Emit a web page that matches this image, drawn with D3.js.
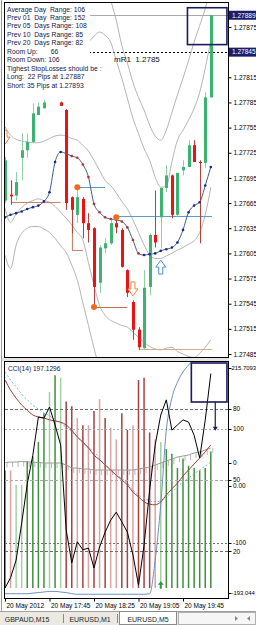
<!DOCTYPE html>
<html>
<head>
<meta charset="utf-8">
<script src="https://cdn.jsdelivr.net/npm/d3@7"></script>
<style>
  body { margin: 0; background: #fff; }
  svg { display: block; font-family: "Liberation Sans", Arial, sans-serif; }
  text { white-space: pre; }
</style>
</head>
<body>
<svg id="chart" width="256" height="625"></svg>
<script>
// EURUSD M5, values (bar 0 = 17:05)
const tickBars = [0, 8, 16, 24, 32];
const tickLabels = ['20 May 2012', '20 May 17:45', '20 May 18:25', '20 May 19:05', '20 May 19:45'];

const open  = [1.27668, 1.27675, 1.27674, 1.27719, 1.27728, 1.27738, 1.27770, 1.27778, null, null,
               1.27785, 1.27776, 1.27672, 1.27651, 1.27670, 1.27641, 1.27635, 1.27570, 1.27611, 1.27617,
               1.27641, 1.27633, 1.27585, 1.27547, 1.27514, 1.27492, 1.27565, 1.27627, 1.27648, 1.27683,
               1.27698, 1.27651, 1.27704, 1.27708, 1.27734, 1.27714, 1.27713, 1.27791];
const high  = [1.27720, 1.27692, 1.27702, 1.27748, 1.27748, 1.27784, 1.27785, 1.27788, null, null,
               1.27786, 1.27777, 1.27673, 1.27684, 1.27672, 1.27653, 1.27636, 1.27615, 1.27623, 1.27645,
               1.27648, 1.27635, 1.27586, 1.27549, 1.27517, 1.27585, 1.27629, 1.27680, 1.27684, 1.27710,
               1.27699, 1.27701, 1.27716, 1.27740, 1.27740, 1.27716, 1.27797, 1.27889];
const low   = [1.27665, 1.27663, 1.27668, 1.27692, 1.27719, 1.27737, 1.27770, 1.27778, null, null,
               1.27781, 1.27657, 1.27629, 1.27641, 1.27623, 1.27618, 1.27541, 1.27558, 1.27605, 1.27615,
               1.27629, 1.27588, 1.27553, 1.27502, 1.27490, 1.27490, 1.27555, 1.27612, 1.27611, 1.27678,
               1.27647, 1.27648, 1.27698, 1.27708, 1.27714, 1.27617, 1.27707, 1.27791];
const close = [1.27716, 1.27673, 1.27690, 1.27728, 1.27738, 1.27772, 1.27780, 1.27785, null, null,
               1.27781, 1.27665, 1.27657, 1.27672, 1.27641, 1.27633, 1.27565, 1.27612, 1.27617, 1.27641,
               1.27636, 1.27589, 1.27558, 1.27514, 1.27493, 1.27564, 1.27627, 1.27618, 1.27683, 1.27698,
               1.27651, 1.27701, 1.27708, 1.27734, 1.27714, 1.27713, 1.27791, 1.27889];

// bollinger style envelopes
const bandOuterUp = [1.27890, 1.27883, 1.27871, 1.27859, 1.27847, 1.27838, 1.27835, 1.27841, 1.27853, 1.27865,
                     1.27877, 1.27883, 1.27893, 1.27901, 1.27913, 1.27925, 1.27937, 1.27943, 1.27931, 1.27907,
                     1.27883, 1.27853, 1.27832, 1.27809, 1.27791, 1.27776, 1.27758, 1.27745, 1.27740, 1.27752,
                     1.27773, 1.27794, 1.27814, 1.27835, 1.27857, 1.27877, 1.27897, 1.27925];
const bandInnerUp = [1.27835, 1.27833, 1.27826, 1.27821, 1.27819, 1.27814, 1.27812, 1.27814, 1.27818, 1.27824,
                     1.27830, 1.27835, 1.27841, 1.27847, 1.27853, 1.27857, 1.27864, 1.27869, 1.27865, 1.27857,
                     1.27835, 1.27814, 1.27790, 1.27766, 1.27748, 1.27730, 1.27716, 1.27696, 1.27684, 1.27685,
                     1.27714, 1.27740, 1.27752, 1.27764, 1.27778, 1.27797, 1.27826, 1.27859];
const bandMid     = [1.27756, 1.27746, 1.27741, 1.27739, 1.27738, 1.27737, 1.27737, 1.27739, 1.27742, 1.27745,
                     1.27746, 1.27745, 1.27742, 1.27740, 1.27734, 1.27727, 1.27716, 1.27704, 1.27692, 1.27686,
                     1.27677, 1.27667, 1.27658, 1.27645, 1.27630, 1.27615, 1.27603, 1.27599, 1.27599, 1.27602,
                     1.27605, 1.27609, 1.27612, 1.27616, 1.27620, 1.27630, 1.27651, 1.27684];
const bandInnerLow = [1.27659, 1.27642, 1.27652, 1.27660, 1.27665, 1.27668, 1.27670, 1.27668, 1.27666, 1.27661,
                      1.27654, 1.27647, 1.27639, 1.27630, 1.27621, 1.27594, 1.27567, 1.27543, 1.27531, 1.27525,
                      1.27522, 1.27519, 1.27517, 1.27511, 1.27505, 1.27499, 1.27494, 1.27491, 1.27490, 1.27492,
                      1.27493, 1.27488, 1.27485, 1.27482, 1.27481, 1.27486, 1.27493, 1.27502];
const bandOuterLow = [1.27603, 1.27587, 1.27615, 1.27629, 1.27635, 1.27637, 1.27637, 1.27634, 1.27630, 1.27623,
                      1.27614, 1.27606, 1.27591, 1.27573, 1.27546, 1.27519, 1.27492, 1.27468, 1.27448, 1.27436,
                      1.27430, 1.27424, 1.27418, 1.27412, 1.27406, 1.27400, 1.27394, 1.27392, 1.27392, 1.27394,
                      1.27394, 1.27388, 1.27382, 1.27376, 1.27373, 1.27373, 1.27376, 1.27382];

// dotted trend MA, b = below price (navy dot), r = above price (red dot)
const maLine = [1.27648, 1.27651, 1.27653, 1.27655, 1.27658, 1.27660, 1.27662, 1.27667, 1.27678, 1.27714,
                1.27726, 1.27724, 1.27721, 1.27719, 1.27711, 1.27696, 1.27664, 1.27654, 1.27648, 1.27646,
                1.27645, 1.27643, 1.27636, 1.27621, 1.27605, 1.27603, 1.27604, 1.27605, 1.27608, 1.27610,
                1.27612, 1.27618, 1.27633, 1.27654, 1.27662, 1.27666, 1.27686, 1.27708];
const maSide = 'bbbbbbbbbbbrrrrrrrrrrrrrrbbbbbbbbbbbbb'.split('');

// fractal points, s/r segments, arrows
const fractalBars   = [13, 20, 16];
const fractalPrices = [1.27684, 1.27648, 1.27541];
const resistSegs = [{ from: 13, to: 18, price: 1.27684 }, { from: 20, to: 37.2, price: 1.27649 }];
const supportSegs = [
  { from: 1, to: 10, top: 1.27692, price: 1.27666, color: '#c9866c' },
  { from: 12, to: 14, top: 1.27641, price: 1.27609, color: '#c9866c' },
  { from: 16, to: 22, top: 1.27541, price: 1.27541, color: '#b8704e' },
  { from: 24, to: 37.2, top: 1.27502, price: 1.27491, color: '#d7aa80' }
];
const downArrows = [{ bar: 0, price: 1.27752 }, { bar: 23, price: 1.27571 }];
const upArrows = [{ bar: 28, price: 1.27597 }];

const bidPrice = 1.27889;
const mR1Price = 1.27845;
const priceTicks = [1.27875, 1.27815, 1.27785, 1.27755, 1.27725, 1.27695, 1.27665,
                    1.27635, 1.27605, 1.27575, 1.27545, 1.27515, 1.27485];

const infoLines = ['Average Day  Range: 106', 'Prev 01  Day  Range: 152', 'Prev 05  Days Range: 108',
                   'Prev 10  Days Range: 85', 'Prev 20  Days Range: 82', 'Room Up:       66',
                   'Room Down: 106', 'Tighest StopLosses should be :', 'Long:  22 Pips at 1.27887',
                   'Short: 35 Pips at 1.27893'];

// sub window
const cciValues = [-179, -161, -130, -65, 3.5, 54, 121, 119, 138.5, 107,
                   72, -77, -135, -98, -112, -109, -144, -107, -81, -60,
                   -46, -63, -81, -121, -174, -104, -7, 72, 124.5, 151,
                   98, 107, 116, 112, 89, 49, 116, 197.1296];
const cciSlow = [186, 168, 154, 142, 133, 124.5, 121, 119, 116, 114,
                 112, 107, 98, 86, 77, 67, 54, 46, 37, 28,
                 19, 10.5, 2, -11, -19, -28, -32, -33, -28, -16,
                 -5, 5, 17.5, 28, 38.5, 49, 60, 72];
const cciFast = [200, 186, 174, 161, 151, 142, 135, 128, 123, 116,
                 110.5, 103, 95, 86, 75, 67, 60, 49, 38.5, 28,
                 19, 14, 5, -7, -16, -21, -26, -28, -26, -19,
                 -11, -2, 7, 14, 21, 28, 35, 42];
const cciTrend = [-189, -189, -189, -189, -189, -188, -187, -186, -185, -185,
                  -186, -187, -189, -190, -190, -190, -190, -190, -190, -190,
                  -190, -190, -190, -190, -190, -190, -189, -130, -33, 98,
                  154, 182, 200, 212, 223, 231, 238, 244];
const histValues = [54, 54, 48, 48, 58, 60, 66, 78, 87, 94,
                    93, 83, 81, 76, 73, 73, 79, 84, 76, 72,
                    67, 78, 71, 73, 92, 93, 70, 67, 66, 63,
                    61, 55, 59, 56, 55, 54, 55, 62];
const histColors = ['r', 'lr', 'lg', 'lg', 'g', 'g', 'g', 'g', 'lg', 'g',
                    'lg', 'r', 'r', 'lr', 'r', 'lr', 'r', 'lr', 'r', 'lr',
                    'lr', 'r', 'r', 'lr', 'r', 'r', 'r', 'lr', 'lg', 'g',
                    'g', 'g', 'g', 'g', 'g', 'g', 'g', 'g'];
const oscValues = [0.05, 0.1, 0.1, 0.15, 0.1, 0.1, 0.05, 0, 0, 0,
                   0, -0.2, -0.5, -0.5, -0.6, -0.6, -0.7, -0.7, -0.7, -0.7,
                   -0.7, -0.7, -0.7, -0.7, -0.6, -0.5, -0.4, -0.2, 0, 0.2,
                   0.4, 0.6, 0.7, 0.8, 1.0, 1.1, 1.3, 1.5];
const cciLevels = [100, -100];
const pctLevels = [80, 50, 20];
const cciMax = 215.7093, cciMin = -193.044;

const tabs = ['GBPAUD,M15', 'EURUSD,M1', 'EURUSD,M5'];

// ---- scales ----
const svg = d3.select('#chart');
const x = d3.scaleLinear().domain([0, 40]).range([5, 227.5]);
const y = d3.scaleLinear().domain([1.27485, 1.27875]).range([354, 27]);
const yCci = d3.scaleLinear().domain([cciMin, cciMax]).range([596, 363]);
const yPct = d3.scaleLinear().domain([0, 100]).range([599, 361]);
const yOsc = d3.scaleLinear().domain([-1, 1]).range([473, 453]);
const px = v => Math.round(v) + 0.5;

const defs = svg.append('defs');
defs.append('clipPath').attr('id', 'clipMain').append('rect')
  .attr('x', 5).attr('y', 3).attr('width', 223).attr('height', 354);
defs.append('clipPath').attr('id', 'clipSub').append('rect')
  .attr('x', 5).attr('y', 362).attr('width', 223).attr('height', 236);

// window chrome
svg.append('rect').attr('x', 0).attr('y', 0).attr('width', 256).attr('height', 625).attr('fill', '#fff');
svg.append('line').attr('x1', 1.5).attr('x2', 1.5).attr('y1', 0).attr('y2', 611).attr('stroke', '#9a9a9a');
svg.append('rect').attr('x', 2).attr('y', 357.5).attr('width', 227).attr('height', 4).attr('fill', '#e4e4e4');

const main = svg.append('g').attr('clip-path', 'url(#clipMain)');

// bid line and mR1 pivot
main.append('line').attr('x1', 5).attr('x2', 228).attr('y1', px(y(bidPrice))).attr('y2', px(y(bidPrice)))
  .attr('stroke', '#a8a8a8');
main.append('line').attr('x1', 5).attr('x2', 228).attr('y1', px(y(mR1Price))).attr('y2', px(y(mR1Price)))
  .attr('stroke', '#000').attr('stroke-dasharray', '2,2');

// bands
const bandLine = d3.line()
  .defined(d => d != null)
  .x((d, i) => x(i))
  .y(d => y(d))
  .curve(d3.curveMonotoneX);
[bandOuterUp, bandInnerUp, bandMid, bandInnerLow, bandOuterLow].forEach(s => {
  main.append('path').datum(s).attr('d', bandLine)
    .attr('fill', 'none').attr('stroke', '#ababab').attr('stroke-width', 0.9);
});

// s/r segments
resistSegs.forEach(s => {
  main.append('line').attr('x1', x(s.from)).attr('x2', x(s.to))
    .attr('y1', px(y(s.price))).attr('y2', px(y(s.price)))
    .attr('stroke', '#5b9bd0').attr('stroke-width', 1);
});
supportSegs.forEach(s => {
  main.append('path')
    .attr('d', `M${px(x(s.from))},${y(s.top)}V${px(y(s.price))}H${x(s.to)}`)
    .attr('fill', 'none').attr('stroke', s.color).attr('stroke-width', 1.2);
});

// MA with dots
main.append('path').datum(maLine).attr('d', bandLine)
  .attr('fill', 'none').attr('stroke', '#3d5d8f').attr('stroke-width', 1);

// candles
const bars = open.map((o, i) => ({ i, o, h: high[i], l: low[i], c: close[i] })).filter(d => d.o != null);
main.selectAll('.wick').data(bars).join('line')
  .attr('x1', d => px(x(d.i))).attr('x2', d => px(x(d.i)))
  .attr('y1', d => y(d.h)).attr('y2', d => y(d.l))
  .attr('stroke', d => d.c >= d.o ? '#8fcfa6' : '#b8403c').attr('stroke-width', 1);
main.selectAll('.body').data(bars).join('rect')
  .attr('x', d => Math.round(x(d.i)) - 1)
  .attr('width', 3)
  .attr('y', d => y(Math.max(d.o, d.c)))
  .attr('height', d => Math.max(1, Math.abs(y(d.o) - y(d.c))))
  .attr('fill', d => d.c >= d.o ? '#3cb371' : '#ee1111');

main.selectAll('.madot').data(maLine).join('circle')
  .attr('cx', (d, i) => x(i)).attr('cy', d => y(d)).attr('r', 1.3)
  .attr('fill', (d, i) => maSide[i] === 'r' ? '#c0302a' : '#1c2a80');

// fractals
fractalBars.forEach((b, k) => {
  main.append('circle').attr('cx', x(b)).attr('cy', y(fractalPrices[k])).attr('r', 3)
    .attr('fill', '#f26b1d');
});

// hollow arrows
downArrows.forEach(a => {
  const cx = x(a.bar), t = y(a.price);
  main.append('path')
    .attr('d', `M${cx - 2},${t}H${cx + 2}V${t + 7}H${cx + 5}L${cx},${t + 14}L${cx - 5},${t + 7}H${cx - 2}Z`)
    .attr('fill', '#fff').attr('stroke', '#f0843c').attr('stroke-width', 1);
});
upArrows.forEach(a => {
  const cx = x(a.bar), t = y(a.price);
  main.append('path')
    .attr('d', `M${cx},${t}L${cx + 5},${t + 7}H${cx + 2}V${t + 14}H${cx - 2}V${t + 7}H${cx - 5}Z`)
    .attr('fill', '#fff').attr('stroke', '#4a90d9').attr('stroke-width', 1);
});

// info panel
main.append('rect').attr('x', 5).attr('y', 3).attr('width', 85).attr('height', 89).attr('fill', '#fff');
main.selectAll('.info').data(infoLines).join('text')
  .attr('x', 7).attr('y', (d, i) => 11.5 + i * 8.47)
  .attr('font-size', 6.8).attr('fill', '#16164a')
  .text(d => d);

main.append('text').attr('x', 114).attr('y', 62).attr('font-size', 8).attr('fill', '#111')
  .text('mR1  1.2785');

// drawn rectangle
main.append('rect').attr('x', x(32.8)).attr('y', y(1.27898))
  .attr('width', x(39.9) - x(32.8)).attr('height', y(1.27854) - y(1.27898))
  .attr('fill', 'none').attr('stroke', '#1a1a5c').attr('stroke-width', 1.6);

// main frame
svg.append('rect').attr('x', 4.5).attr('y', 2.5).attr('width', 224).attr('height', 355)
  .attr('fill', 'none').attr('stroke', '#000');

// price axis
const pAxis = svg.append('g').attr('transform', 'translate(228.5,0)')
  .call(d3.axisRight(y).tickValues(priceTicks).tickSize(3).tickPadding(2).tickFormat(d3.format('.5f')));
pAxis.select('.domain').remove();
pAxis.selectAll('text').attr('font-size', 6.5).attr('font-family', '"Liberation Sans", Arial, sans-serif').attr('fill', '#000');
pAxis.selectAll('line').attr('stroke', '#000');

[[bidPrice, '1.27889'], [mR1Price, '1.27845']].forEach(([p, t]) => {
  const yy = y(p);
  svg.append('rect').attr('x', 229).attr('y', yy - 4.5).attr('width', 27).attr('height', 9).attr('fill', '#1c1c6a');
  svg.append('text').attr('x', 232).attr('y', yy + 2.3).attr('font-size', 6.5).attr('fill', '#fff').text(t);
});

// ---- sub window ----
const sub = svg.append('g').attr('clip-path', 'url(#clipSub)');
const histBase = 4.6;
const histFill = { g: '#3f8f3f', lg: '#a3d0a3', r: '#a54141', lr: '#dba3a3' };
sub.selectAll('.hist').data(histValues).join('line')
  .attr('x1', (d, i) => x(i)).attr('x2', (d, i) => x(i))
  .attr('y1', yPct(histBase)).attr('y2', d => yPct(d))
  .attr('stroke', (d, i) => histFill[histColors[i]]).attr('stroke-width', 1.5);

pctLevels.forEach(v => {
  sub.append('line').attr('x1', 5).attr('x2', 228).attr('y1', px(yPct(v))).attr('y2', px(yPct(v)))
    .attr('stroke', v === 50 ? '#a8a8a8' : '#6c6c6c').attr('stroke-dasharray', '3,2');
});
cciLevels.forEach(v => {
  sub.append('line').attr('x1', 5).attr('x2', 228).attr('y1', px(yCci(v))).attr('y2', px(yCci(v)))
    .attr('stroke', v > 0 ? '#a8a8a8' : '#6c6c6c').attr('stroke-dasharray', '2,2');
});

const oscLine = d3.line().x((d, i) => x(i)).y(d => yOsc(d));
sub.append('path').datum(oscValues).attr('d', oscLine)
  .attr('fill', 'none').attr('stroke', '#9a9a9a').attr('stroke-width', 1);
sub.selectAll('.osct').data(oscValues).join('line')
  .attr('x1', (d, i) => x(i) + 2).attr('x2', (d, i) => x(i) + 2)
  .attr('y1', d => yOsc(d)).attr('y2', d => yOsc(d) + 5)
  .attr('stroke', '#a8a8a8').attr('stroke-width', 0.8);

const cciLine = d3.line().x((d, i) => x(i)).y(d => yCci(d));
const cciSmooth = d3.line().x((d, i) => x(i)).y(d => yCci(d)).curve(d3.curveMonotoneX);
sub.append('path').datum(cciTrend).attr('d', cciSmooth)
  .attr('fill', 'none').attr('stroke', '#6f8fbf').attr('stroke-width', 1);
sub.append('path').datum(cciFast).attr('d', cciSmooth)
  .attr('fill', 'none').attr('stroke', '#7fb4dc').attr('stroke-width', 1).attr('stroke-dasharray', '2,2');
sub.append('path').datum(cciSlow).attr('d', cciSmooth)
  .attr('fill', 'none').attr('stroke', '#a23b34').attr('stroke-width', 1);
sub.append('path').datum(cciValues).attr('d', cciLine)
  .attr('fill', 'none').attr('stroke', '#000').attr('stroke-width', 1);

// green up arrow at the low
sub.append('path')
  .attr('d', `M${x(28)},${yPct(7.5)}l3,3.5h-2v4h-2v-4h-2z`)
  .attr('fill', '#2e9a3e');

// drawn rectangle + arrow in sub window
sub.append('rect').attr('x', x(33.5)).attr('y', yCci(cciMax))
  .attr('width', x(39.9) - x(33.5)).attr('height', yCci(147.3) - yCci(cciMax))
  .attr('fill', 'none').attr('stroke', '#1a1a5c').attr('stroke-width', 1.6);
sub.append('line').attr('x1', x(37.8)).attr('x2', x(37.8)).attr('y1', yCci(147.3)).attr('y2', yCci(100))
  .attr('stroke', '#1a1a5c').attr('stroke-width', 1.2);
sub.append('path')
  .attr('d', `M${x(37.8) - 2.5},${yCci(104)}h5l-2.5,4z`).attr('fill', '#1a1a5c');

sub.append('text').attr('x', 8).attr('y', 371).attr('font-size', 6.6).attr('fill', '#16164a')
  .text('CCI(14) ' + d3.format('.4f')(cciValues[cciValues.length - 1]));

svg.append('rect').attr('x', 4.5).attr('y', 361.5).attr('width', 224).attr('height', 237)
  .attr('fill', 'none').attr('stroke', '#000');

// sub axis labels, each from its own scale
const subLabels = [
  { y: yCci(cciMax) + 5, t: '215.7093', small: true },
  { y: yPct(80), t: '80' },
  { y: yCci(100), t: '100' },
  { y: yOsc(0), t: '0' },
  { y: yPct(50), t: '50' },
  { y: yCci(0), t: '0.00' },
  { y: yCci(-100), t: '-100' },
  { y: yPct(20), t: '20' },
  { y: yCci(cciMin) - 3, t: '-193.044', small: true }
];
subLabels.forEach(l => {
  svg.append('line').attr('x1', 228.5).attr('x2', 231.5).attr('y1', px(l.y)).attr('y2', px(l.y)).attr('stroke', '#000');
  svg.append('text').attr('x', l.small ? 231.5 : 233).attr('y', l.y + 2.3)
    .attr('font-size', l.small ? 5.9 : 6.5).attr('fill', '#000').text(l.t);
});

// time axis
const tAxis = svg.append('g').attr('transform', 'translate(0,598.5)')
  .call(d3.axisBottom(x).tickValues(tickBars).tickSize(3).tickFormat((d, i) => tickLabels[i]));
tAxis.select('.domain').remove();
tAxis.selectAll('line').attr('stroke', '#000');
tAxis.selectAll('text').attr('font-size', 6.5).attr('font-family', '"Liberation Sans", Arial, sans-serif')
  .attr('fill', '#000').attr('text-anchor', 'start').attr('dx', 1).attr('y', 5);

// tabs
svg.append('rect').attr('x', 0).attr('y', 611).attr('width', 256).attr('height', 14).attr('fill', '#ece9e2');
svg.append('line').attr('x1', 0).attr('x2', 256).attr('y1', 611.5).attr('y2', 611.5).attr('stroke', '#a0a0a0');
svg.append('rect').attr('x', 119.5).attr('y', 611.5).attr('width', 57).attr('height', 13).attr('fill', '#fff').attr('stroke', '#8a8a8a');
svg.append('rect').attr('x', 178.5).attr('y', 612.5).attr('width', 77).attr('height', 12).attr('fill', '#f6f6f6').attr('stroke', '#b0b0b0');
[63.5, 117.5].forEach(sx => svg.append('line').attr('x1', sx).attr('x2', sx).attr('y1', 614).attr('y2', 623).attr('stroke', '#8a8a8a'));
const tabX = [27, 90, 148];
tabs.forEach((t, i) => {
  svg.append('text').attr('x', tabX[i]).attr('y', 621.5).attr('font-size', 7).attr('text-anchor', 'middle')
    .attr('fill', '#222').text(t);
});
svg.append('path').attr('d', 'M238,618.5l-3,-2.5v5z').attr('fill', '#888');
svg.append('path').attr('d', 'M247,618.5l3,-2.5v5z').attr('fill', '#888');
</script>
</body>
</html>
